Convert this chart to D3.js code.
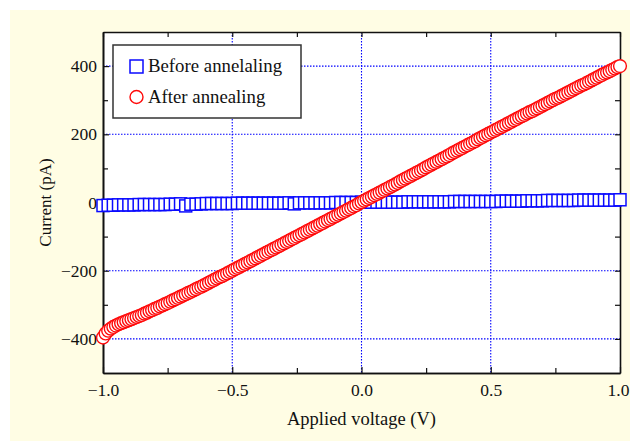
<!DOCTYPE html>
<html>
<head>
<meta charset="utf-8">
<script src="https://cdn.jsdelivr.net/npm/d3@7"></script>
<style>
  html, body { margin: 0; padding: 0; background: #ffffff; }
  svg { display: block; }
  text { font-family: "Liberation Serif", "Times New Roman", serif; fill: #111; }
</style>
</head>
<body>
<svg id="chart" width="630" height="441"></svg>
<script>
// before annealing: voltage sweep (V) and current (pA)
let beforeV = [
  -1.00,-0.98,-0.96,-0.94,-0.92,-0.90,-0.88,-0.86,-0.84,-0.82,
  -0.80,-0.78,-0.76,-0.74,-0.72,-0.70,-0.68,-0.66,-0.64,-0.62,
  -0.60,-0.58,-0.56,-0.54,-0.52,-0.50,-0.48,-0.46,-0.44,-0.42,
  -0.40,-0.38,-0.36,-0.34,-0.32,-0.30,-0.28,-0.26,-0.24,-0.22,
  -0.20,-0.18,-0.16,-0.14,-0.12,-0.10,-0.08,-0.06,-0.04,-0.02,
   0.00, 0.02, 0.04, 0.06, 0.08, 0.10, 0.12, 0.14, 0.16, 0.18,
   0.20, 0.22, 0.24, 0.26, 0.28, 0.30, 0.32, 0.34, 0.36, 0.38,
   0.40, 0.42, 0.44, 0.46, 0.48, 0.50, 0.52, 0.54, 0.56, 0.58,
   0.60, 0.62, 0.64, 0.66, 0.68, 0.70, 0.72, 0.74, 0.76, 0.78,
   0.80, 0.82, 0.84, 0.86, 0.88, 0.90, 0.92, 0.94, 0.96, 0.98,
   1.00
];
let beforeI = [
  -9,-8,-8,-7,-7,-7,-7,-6,-6,-6,
  -6,-6,-6,-5,-5,-4,-10,-5,-5,-4,
  -3,-3,-3,-3,-3,-3,-2,-2,-2,-2,
  -2,-2,-2,-2,-2,-2,-1,-4,-1,-1,
  -1,-1,-1,-1,-1,0,0,0,0,0,
  1,1,1,1,1,1,1,1,1,2,
  2,2,2,2,2,2,2,2,3,3,
  3,3,3,3,3,3,3,4,4,4,
  4,4,5,5,5,5,6,6,6,6,
  6,6,7,7,7,7,7,7,7,7,
  8
];

// after annealing: voltage sweep (V) and current (pA)
let afterV = [
  -1.00,-0.99,-0.98,-0.97,-0.96,-0.95,-0.94,-0.93,-0.92,-0.91,
  -0.90,-0.89,-0.88,-0.87,-0.86,-0.85,-0.84,-0.83,-0.82,-0.81,
  -0.80,-0.79,-0.78,-0.77,-0.76,-0.75,-0.74,-0.73,-0.72,-0.71,
  -0.70,-0.69,-0.68,-0.67,-0.66,-0.65,-0.64,-0.63,-0.62,-0.61,
  -0.60,-0.59,-0.58,-0.57,-0.56,-0.55,-0.54,-0.53,-0.52,-0.51,
  -0.50,-0.49,-0.48,-0.47,-0.46,-0.45,-0.44,-0.43,-0.42,-0.41,
  -0.40,-0.39,-0.38,-0.37,-0.36,-0.35,-0.34,-0.33,-0.32,-0.31,
  -0.30,-0.29,-0.28,-0.27,-0.26,-0.25,-0.24,-0.23,-0.22,-0.21,
  -0.20,-0.19,-0.18,-0.17,-0.16,-0.15,-0.14,-0.13,-0.12,-0.11,
  -0.10,-0.09,-0.08,-0.07,-0.06,-0.05,-0.04,-0.03,-0.02,-0.01,
   0.00, 0.01, 0.02, 0.03, 0.04, 0.05, 0.06, 0.07, 0.08, 0.09,
   0.10, 0.11, 0.12, 0.13, 0.14, 0.15, 0.16, 0.17, 0.18, 0.19,
   0.20, 0.21, 0.22, 0.23, 0.24, 0.25, 0.26, 0.27, 0.28, 0.29,
   0.30, 0.31, 0.32, 0.33, 0.34, 0.35, 0.36, 0.37, 0.38, 0.39,
   0.40, 0.41, 0.42, 0.43, 0.44, 0.45, 0.46, 0.47, 0.48, 0.49,
   0.50, 0.51, 0.52, 0.53, 0.54, 0.55, 0.56, 0.57, 0.58, 0.59,
   0.60, 0.61, 0.62, 0.63, 0.64, 0.65, 0.66, 0.67, 0.68, 0.69,
   0.70, 0.71, 0.72, 0.73, 0.74, 0.75, 0.76, 0.77, 0.78, 0.79,
   0.80, 0.81, 0.82, 0.83, 0.84, 0.85, 0.86, 0.87, 0.88, 0.89,
   0.90, 0.91, 0.92, 0.93, 0.94, 0.95, 0.96, 0.97, 0.98, 0.99,
   1.00
];
let afterI = [
  -396,-384,-376,-370,-365,-361,-357,-354,-351,-348,
  -345,-342,-339,-336,-333,-330,-326,-323,-319,-316,
  -312,-309,-305,-302,-298,-295,-291,-287,-284,-280,
  -276,-273,-269,-265,-262,-258,-254,-250,-247,-243,
  -239,-235,-231,-227,-223,-219,-216,-212,-208,-204,
  -200,-196,-192,-188,-184,-180,-176,-172,-168,-164,
  -160,-156,-152,-148,-144,-140,-136,-132,-128,-124,
  -120,-116,-112,-108,-104,-100,-96,-92,-88,-84,
  -80,-76,-72,-68,-64,-60,-56,-52,-48,-44,
  -40,-36,-32,-28,-24,-20,-16,-12,-8,-3,
  1,5,9,13,17,21,25,29,33,37,
  41,45,49,53,57,62,66,70,74,78,
  82,86,90,94,98,103,107,111,115,119,
  123,127,131,135,139,144,148,152,156,160,
  164,168,172,176,180,185,189,193,197,201,
  205,209,213,217,221,225,229,233,237,241,
  245,249,253,257,261,265,268,272,276,280,
  284,288,292,296,300,304,307,311,315,319,
  323,327,331,335,339,343,346,350,354,358,
  362,366,370,374,378,381,385,389,393,397,
  400
];

let xMajor = [-1.0, -0.5, 0.0, 0.5, 1.0];
let xMinor = [-0.75, -0.25, 0.25, 0.75];
let yMajor = [-400, -200, 0, 200, 400];
let yMinor = [-300, -100, 100, 300];
let legendLabels = ["Before annelaling", "After annealing"];

let svg = d3.select("#chart");
let W = 630, H = 441;
let pL = 103, pR = 620, pT = 32, pB = 373;

let x = d3.scaleLinear().domain([-1, 1]).range([pL, pR]);
let y = d3.scaleLinear().domain([-500, 500]).range([pB, pT]);

// page background
svg.append("rect")
  .attr("x", 10).attr("y", 10)
  .attr("width", W - 10).attr("height", H - 10)
  .attr("fill", "#fffde4");

svg.append("rect")
  .attr("x", pL).attr("y", pT)
  .attr("width", pR - pL).attr("height", pB - pT)
  .attr("fill", "#ffffff");

// dotted grid
let grid = svg.append("g").attr("class", "grid")
  .attr("stroke", "#0000ff").attr("stroke-width", 1.1)
  .attr("stroke-dasharray", "1.5,1.5");
grid.selectAll(".gx").data(xMajor.slice(1, -1)).enter().append("line")
  .attr("x1", d => x(d)).attr("x2", d => x(d))
  .attr("y1", pT).attr("y2", pB);
grid.selectAll(".gy").data(yMajor).enter().append("line")
  .attr("x1", pL).attr("x2", pR)
  .attr("y1", d => y(d)).attr("y2", d => y(d));

// axes, ticks pointing inward
function styleAxis(g){
  g.select(".domain").attr("stroke", "#111").attr("stroke-width", 1.6);
  g.selectAll(".tick line").attr("stroke", "#111").attr("stroke-width", 1.2);
  g.selectAll("text").attr("font-size", 17.5)
    .attr("font-family", "'Liberation Serif', 'Times New Roman', serif")
    .attr("fill", "#111");
}

svg.append("g").attr("transform", `translate(0,${pB})`)
  .call(d3.axisBottom(x).tickValues(xMajor).tickSize(-6).tickSizeOuter(0)
    .tickPadding(11).tickFormat(d3.format(".1f")))
  .call(styleAxis)
  .call(g => g.selectAll(".tick text").filter(d => d === 1).attr("dx", -2));
svg.append("g").attr("transform", `translate(0,${pB})`)
  .call(d3.axisBottom(x).tickValues(xMinor).tickSize(-5).tickSizeOuter(0).tickFormat(""))
  .call(styleAxis);
svg.append("g").attr("transform", `translate(0,${pT})`)
  .call(d3.axisTop(x).tickValues(xMajor.concat(xMinor)).tickSize(-5).tickSizeOuter(0).tickFormat(""))
  .call(styleAxis);

svg.append("g").attr("transform", `translate(${pL},0)`)
  .call(d3.axisLeft(y).tickValues(yMajor).tickSize(-6).tickSizeOuter(0)
    .tickPadding(6).tickFormat(d3.format("d")))
  .call(styleAxis);
svg.append("g").attr("transform", `translate(${pL},0)`)
  .call(d3.axisLeft(y).tickValues(yMinor).tickSize(-5).tickSizeOuter(0).tickFormat(""))
  .call(styleAxis);
svg.append("g").attr("transform", `translate(${pR},0)`)
  .call(d3.axisRight(y).tickValues(yMajor.concat(yMinor)).tickSize(-5).tickSizeOuter(0).tickFormat(""))
  .call(styleAxis);

// axis titles
svg.append("text")
  .attr("x", (pL + pR) / 2).attr("y", 425)
  .attr("text-anchor", "middle").attr("font-size", 18.5)
  .text("Applied voltage (V)");
svg.append("text")
  .attr("transform", `translate(51,${(pT + pB) / 2}) rotate(-90)`)
  .attr("text-anchor", "middle").attr("font-size", 17)
  .text("Current (pA)");

// data: squares first, circles on top
let sq = 12;
svg.append("g").selectAll("rect")
  .data(beforeV.map((v, i) => [v, beforeI[i]]))
  .enter().append("rect")
  .attr("x", d => x(d[0]) - sq / 2).attr("y", d => y(d[1]) - sq / 2)
  .attr("width", sq).attr("height", sq)
  .attr("fill", "#ffffff").attr("stroke", "#0a0aff").attr("stroke-width", 1.5);

svg.append("g").selectAll("circle")
  .data(afterV.map((v, i) => [v, afterI[i]]))
  .enter().append("circle")
  .attr("cx", d => x(d[0])).attr("cy", d => y(d[1]))
  .attr("r", 6.4)
  .attr("fill", "#ffffff").attr("stroke", "#ff0a0a").attr("stroke-width", 1.4);

// legend
let lg = svg.append("g");
lg.append("rect")
  .attr("x", 113).attr("y", 45).attr("width", 188).attr("height", 73)
  .attr("fill", "#ffffff").attr("stroke", "#333").attr("stroke-width", 1.5);
lg.append("rect")
  .attr("x", 130).attr("y", 60).attr("width", 13).attr("height", 13)
  .attr("fill", "#ffffff").attr("stroke", "#0a0aff").attr("stroke-width", 1.5);
lg.append("circle")
  .attr("cx", 136.5).attr("cy", 97).attr("r", 6.5)
  .attr("fill", "#ffffff").attr("stroke", "#ff0a0a").attr("stroke-width", 1.4);
lg.selectAll(".lt").data(legendLabels).enter().append("text")
  .attr("x", 148).attr("y", (d, i) => 72 + i * 31)
  .attr("font-size", 18.8)
  .text(d => d);
</script>
</body>
</html>
